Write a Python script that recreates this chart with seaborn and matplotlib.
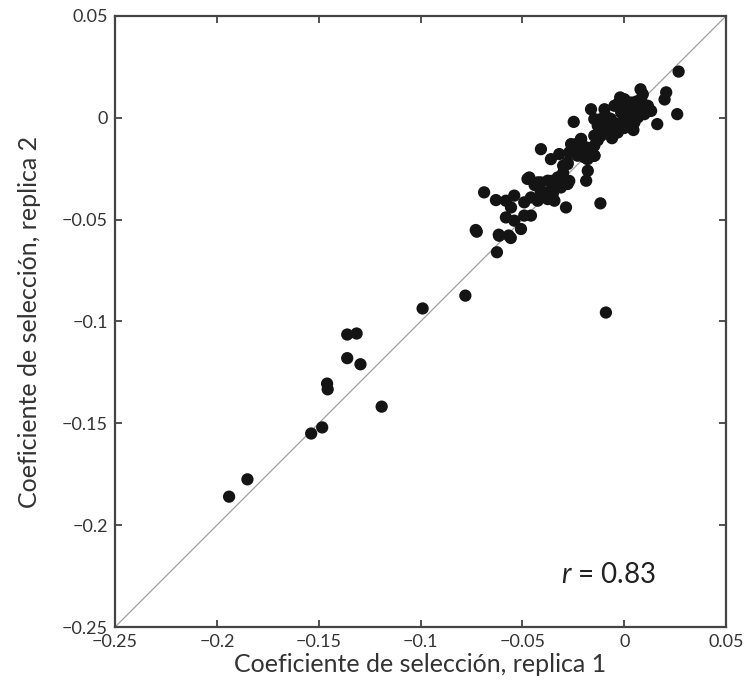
import numpy as np
import pandas as pd
import matplotlib
matplotlib.use("Agg")
import matplotlib.pyplot as plt
import seaborn as sns

# Selection coefficients, replica 1 (x) and replica 2 (y)
rep1 = [
    -0.194, -0.185,
    -0.1537, -0.1483, -0.1459, -0.1456, -0.136, -0.1295, -0.136, -0.1314,
    -0.1191, -0.099, -0.078, -0.009,
    -0.0724, -0.0616, -0.0567, -0.0625,
    -0.0688, -0.0630, -0.0581, -0.0540, -0.0556, -0.0581, -0.0540, -0.0491,
    -0.0458, -0.0507, -0.0729, -0.0614, -0.0557,
    -0.0409, -0.0360, -0.0319, -0.0278, -0.0196, -0.0146, -0.0229, -0.0261,
    -0.0179, -0.0187, -0.0466, -0.0425, -0.0376, -0.0327, -0.0278, -0.0311,
    -0.0360, -0.0409, -0.0458, -0.0491, -0.0425, -0.0376, -0.0343, -0.0286,
    -0.0117, -0.0475, -0.0410, -0.0360, -0.0310, -0.0270, -0.0410, -0.0344,
    -0.0270, -0.0237, -0.0212, -0.0188, -0.0155, -0.0300,
    0.0267, 0.0206, 0.0198, 0.0260, 0.0162, 0.0080, -0.0248,
    -0.0163, -0.0097, -0.0048, 0.0001, 0.0034, 0.0083, 0.0116, 0.0132,
    0.0099, 0.0067, 0.0017, -0.0015, -0.0048, -0.0081, -0.0032, 0.0017,
    0.0050, -0.0114, -0.0147, -0.0130, -0.0097, -0.0065, -0.0015, 0.0034,
    0.0067, 0.0091, -0.0015, 0.0017, -0.0114, -0.0147, -0.0212, -0.0245,
    -0.0196, -0.0147, -0.0229, -0.0180, -0.0278, -0.0147,
    0.0040, -0.0030, 0.0000, 0.0060, -0.0080, 0.0105, -0.0020, 0.0045,
    -0.0440, -0.0350, -0.0300, -0.0220, -0.0130, -0.0060,
]
rep2 = [
    -0.186, -0.1775,
    -0.155, -0.152, -0.1305, -0.1333, -0.118, -0.121, -0.1064, -0.1059,
    -0.1418, -0.0936, -0.0873, -0.0956,
    -0.0559, -0.0574, -0.0578, -0.0660,
    -0.0366, -0.0404, -0.0407, -0.0382, -0.0440, -0.0489, -0.0505, -0.0480,
    -0.0480, -0.0546, -0.0551, -0.0579, -0.0590,
    -0.0154, -0.0203, -0.0178, -0.0227, -0.0194, -0.0186, -0.0162, -0.0129,
    -0.0260, -0.0309, -0.0293, -0.0317, -0.0309, -0.0293, -0.0325, -0.0342,
    -0.0358, -0.0358, -0.0391, -0.0415, -0.0407, -0.0399, -0.0407, -0.0440,
    -0.0420, -0.0300, -0.0317, -0.0310, -0.0300, -0.0310, -0.0358, -0.0340,
    -0.0170, -0.0129, -0.0104, -0.0145, -0.0186, -0.0235,
    0.0227, 0.0125, 0.0090, 0.0018, -0.0031, 0.0140, -0.0020,
    0.0042, 0.0042, 0.0059, 0.0091, 0.0075, 0.0091, 0.0059, 0.0034,
    0.0018, 0.0002, -0.0006, -0.0023, -0.0039, -0.0072, -0.0072, -0.0039,
    -0.0023, -0.0006, -0.0006, -0.0039, -0.0039, -0.0006, 0.0026, 0.0026,
    0.0042, 0.0116, 0.0059, 0.0059, -0.0088, -0.0088, -0.0104, -0.0137,
    -0.0154, -0.0137, -0.0186, -0.0203, -0.0219, -0.0186,
    0.0010, 0.0070, -0.0050, 0.0080, 0.0000, 0.0030, 0.0100, -0.0060,
    -0.0330, -0.0370, -0.0270, -0.0130, -0.0110, -0.0100,
]

ticks = [-0.25, -0.2, -0.15, -0.1, -0.05, 0, 0.05]
tick_labels = ["\u22120.25", "\u22120.2", "\u22120.15", "\u22120.1", "\u22120.05", "0", "0.05"]
xlabel = "Coeficiente de selección, replica 1"
ylabel = "Coeficiente de selección, replica 2"
r_text = "$\\it{r}$ = 0.83"

df = pd.DataFrame({"rep1": rep1, "rep2": rep2})

sns.set_theme(style="ticks")
plt.rcParams["font.family"] = ["Lato", "DejaVu Sans"]
plt.rcParams["mathtext.fontset"] = "custom"
plt.rcParams["mathtext.it"] = "Lato:italic"

fig = plt.figure(figsize=(7.47, 6.94), dpi=100)
ax = fig.add_axes([0.154, 0.0965, 0.818, 0.8805])

ax.plot([-0.25, 0.05], [-0.25, 0.05], color="#a0a0a0", lw=0.9, zorder=1)
sns.scatterplot(data=df, x="rep1", y="rep2", ax=ax, color="#141414",
                s=78, edgecolor="none", linewidth=0, zorder=2)

ax.set_xlim(-0.25, 0.05)
ax.set_ylim(-0.25, 0.05)
ax.set_xticks(ticks)
ax.set_xticklabels(tick_labels)
ax.set_yticks(ticks)
ax.set_yticklabels(tick_labels)
ax.tick_params(direction="in", length=5, width=1.2, colors="#333333",
               labelcolor="#333333", labelsize=13, top=True, right=True)
ax.tick_params(axis="x", pad=5)
ax.tick_params(axis="y", pad=5)
for sp in ax.spines.values():
    sp.set_visible(True)
    sp.set_color("#444444")
    sp.set_linewidth(1.6)

ax.set_xlabel(xlabel, fontsize=18, color="#333333", labelpad=2)
ax.set_ylabel(ylabel, fontsize=18, color="#333333", labelpad=15)

ax.text(-0.031, -0.2245, r_text, fontsize=20, color="#222222",
        ha="left", va="center")

fig.savefig("out.png", dpi=100)
